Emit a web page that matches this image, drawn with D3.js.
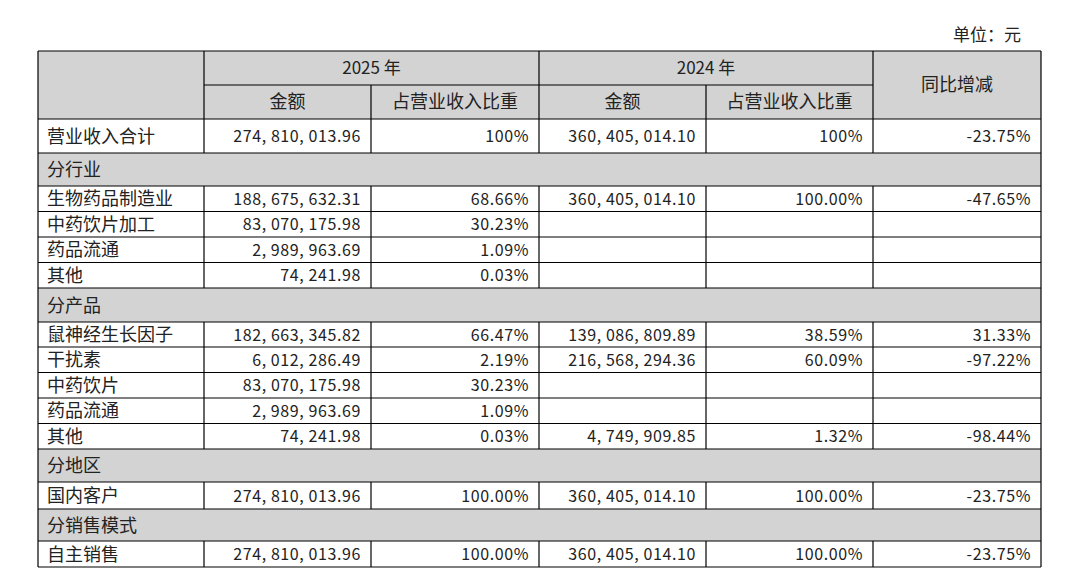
<!DOCTYPE html>
<html><head><meta charset="utf-8">
<script src="https://cdn.jsdelivr.net/npm/d3@7"></script>
<style>body{margin:0;background:#fff}</style>
</head><body><div id="chart"></div>
<script>
const labels = ['营业收入合计','分行业','生物药品制造业','中药饮片加工','药品流通','其他','分产品','鼠神经生长因子','干扰素','中药饮片','药品流通','其他','分地区','国内客户','分销售模式','自主销售'];
const isGroup = [0,1,0,0,0,0,1,0,0,0,0,0,1,0,1,0];
const amount2025 = ['274,810,013.96','','188,675,632.31','83,070,175.98','2,989,963.69','74,241.98','','182,663,345.82','6,012,286.49','83,070,175.98','2,989,963.69','74,241.98','','274,810,013.96','','274,810,013.96'];
const share2025 = ['100%','','68.66%','30.23%','1.09%','0.03%','','66.47%','2.19%','30.23%','1.09%','0.03%','','100.00%','','100.00%'];
const amount2024 = ['360,405,014.10','','360,405,014.10','','','','','139,086,809.89','216,568,294.36','','','4,749,909.85','','360,405,014.10','','360,405,014.10'];
const share2024 = ['100%','','100.00%','','','','','38.59%','60.09%','','','1.32%','','100.00%','','100.00%'];
const yoy = ['-23.75%','','-47.65%','','','','','31.33%','-97.22%','','','-98.44%','','-23.75%','','-23.75%'];
const rowHeights = [34,33,25.5,25.5,25.5,25.5,34,25,25.5,25.5,25.5,25.5,33,27,32,26];

const W = 1069, H = 580;
const svg = d3.select('#chart').append('svg').attr('width', W).attr('height', H)
  .style('font-family', '"Noto Sans CJK SC", sans-serif');
const colEdges = [38,204,371,539,706,873,1041];
const x = i => colEdges[i];
const headTop = 51, headMid = 85, bodyTop = 119;
const ink = '#222', grey = '#d3d3d3';
const cjkSize = 18;

const yStarts = [];
rowHeights.reduce((acc, h, i) => { yStarts[i] = acc; return acc + h; }, bodyTop);
const bodyBottom = yStarts[yStarts.length-1] + rowHeights[rowHeights.length-1];

svg.append('text').attr('x', 1021).attr('y', 41).attr('text-anchor','end')
  .attr('font-size', 17).attr('fill', ink).text('单位：元');

svg.append('rect').attr('x', x(0)).attr('y', headTop).attr('width', x(6)-x(0))
  .attr('height', bodyTop-headTop).attr('fill', grey);

const g = svg.append('g');
rowHeights.forEach((h, i) => {
  const y0 = yStarts[i];
  if (isGroup[i]) {
    g.append('rect').attr('x', x(0)).attr('y', y0).attr('width', x(6)-x(0)).attr('height', h).attr('fill', grey);
  }
  const cy = y0 + h/2 + 6;
  g.append('text').attr('x', x(0)+9).attr('y', cy+0.5).attr('font-size', cjkSize).attr('fill', ink).text(labels[i]);
  if (isGroup[i]) return;
  [amount2025, share2025, amount2024, share2024, yoy].forEach((arr, c) => {
    if (!arr[i]) return;
    g.append('text').attr('x', x(c+2)-10).attr('y', cy).attr('text-anchor','end')
      .attr('font-size', 16).attr('fill', ink).attr('letter-spacing', 0.6).text(arr[i].replace(/,/g, ', '));
  });
});

const ht = (tx, ty, s, fs) => svg.append('text').attr('x', tx).attr('y', ty).attr('text-anchor','middle')
  .attr('font-size', fs || cjkSize).attr('fill', ink).text(s);
ht((x(1)+x(3))/2, (headTop+headMid)/2+6, '2025 年', 17);
ht((x(3)+x(5))/2, (headTop+headMid)/2+6, '2024 年', 17);
ht((x(5)+x(6))/2, (headTop+bodyTop)/2+6, '同比增减');
['金额','占营业收入比重','金额','占营业收入比重'].forEach((s, k) =>
  ht((x(k+1)+x(k+2))/2, (headMid+bodyTop)/2+6, s));

const line = (x1, y1, x2, y2) => svg.append('line').attr('x1', x1).attr('y1', y1).attr('x2', x2).attr('y2', y2)
  .attr('stroke', '#000').attr('stroke-width', 1.2);
line(x(0), headTop, x(6), headTop);
line(x(1), headMid, x(5), headMid);
line(x(0), bodyTop, x(6), bodyTop);
yStarts.slice(1).forEach(y => line(x(0), y, x(6), y));
line(x(0), bodyBottom, x(6), bodyBottom);
line(x(0), headTop, x(0), bodyBottom);
line(x(6), headTop, x(6), bodyBottom);
[1,3,5].forEach(c => line(x(c), headTop, x(c), bodyTop));
[2,4].forEach(c => line(x(c), headMid, x(c), bodyTop));
rowHeights.forEach((h, i) => {
  if (isGroup[i]) return;
  [1,2,3,4,5].forEach(c => line(x(c), yStarts[i], x(c), yStarts[i]+h));
});
</script></body></html>
